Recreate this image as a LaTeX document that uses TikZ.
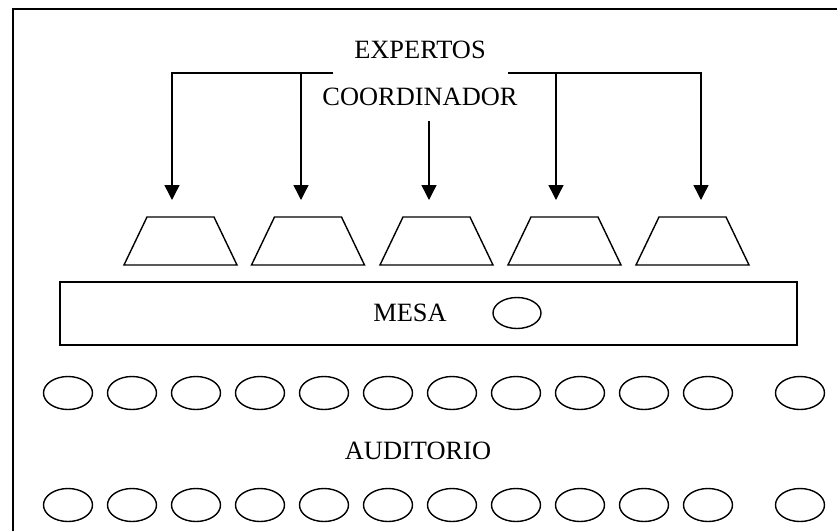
\documentclass[tikz,border=0pt]{standalone}
\usepackage{fontspec}
\setmainfont{Liberation Serif}
\usetikzlibrary{shapes.geometric,arrows.meta}

\begin{document}
\begin{tikzpicture}[x=0.5pt, y=-0.5pt,
  every node/.style={font=\fontsize{13.2}{16}\selectfont, inner sep=0pt, outer sep=0pt},
  linea/.style={line width=0.7pt},
  flecha/.style={line width=0.7pt, -{Triangle[width=7.5pt,length=7.5pt]}},
  asiento/.style={draw, line width=0.7pt, ellipse, minimum width=24.5pt, minimum height=16.5pt}]
\useasboundingbox (0,0) rectangle (837,531);

% marco
\draw[line width=1pt] (837,9) -- (13,9) -- (13,531);

% textos
\node (expertos) at (420,50) {EXPERTOS};
\node (coord) at (420,97) {COORDINADOR};

% sillas
\foreach \x [count=\i] in {180.5,308,436.5,564.5,692.5} {
  \draw[linea] (\x-56.5,265) -- (\x-33.5,217) -- (\x+33.5,217) -- (\x+56.5,265) -- cycle;
  \coordinate (s\i) at (\x,217);
}

% puntas de flecha
\coordinate (p1) at (172,200);
\coordinate (p2) at (301,200);
\coordinate (p3) at (429,200);
\coordinate (p4) at (556,200);
\coordinate (p5) at (701,200);
\coordinate (izq) at (333,73);
\coordinate (der) at (508,73);
\coordinate (c0) at (429,121);

\draw[flecha] (izq) -| (p1);
\draw[flecha] (izq -| p2) -- (p2);
\draw[flecha] (der) -| (p5);
\draw[flecha] (der -| p4) -- (p4);
\draw[flecha] (c0) -- (p3);

% mesa
\node[draw, linea, minimum width=368.5pt, minimum height=31.5pt] (mesa) at (428.5,313.5) {};
\node (mesatxt) at (410,313) {MESA};
\node[asiento, minimum width=24pt, minimum height=15.5pt] (m0) at (517,313) {};

% auditorio
\foreach \i in {0,...,10} {
  \node[asiento] (a\i) at ({68+64*\i},393) {};
  \node[asiento] (b\i) at ({68+64*\i},505) {};
}
\node[asiento] (a11) at (800,393) {};
\node[asiento] (b11) at (800,505) {};
\node (auditorio) at (418,451) {AUDITORIO};
\end{tikzpicture}
\end{document}
